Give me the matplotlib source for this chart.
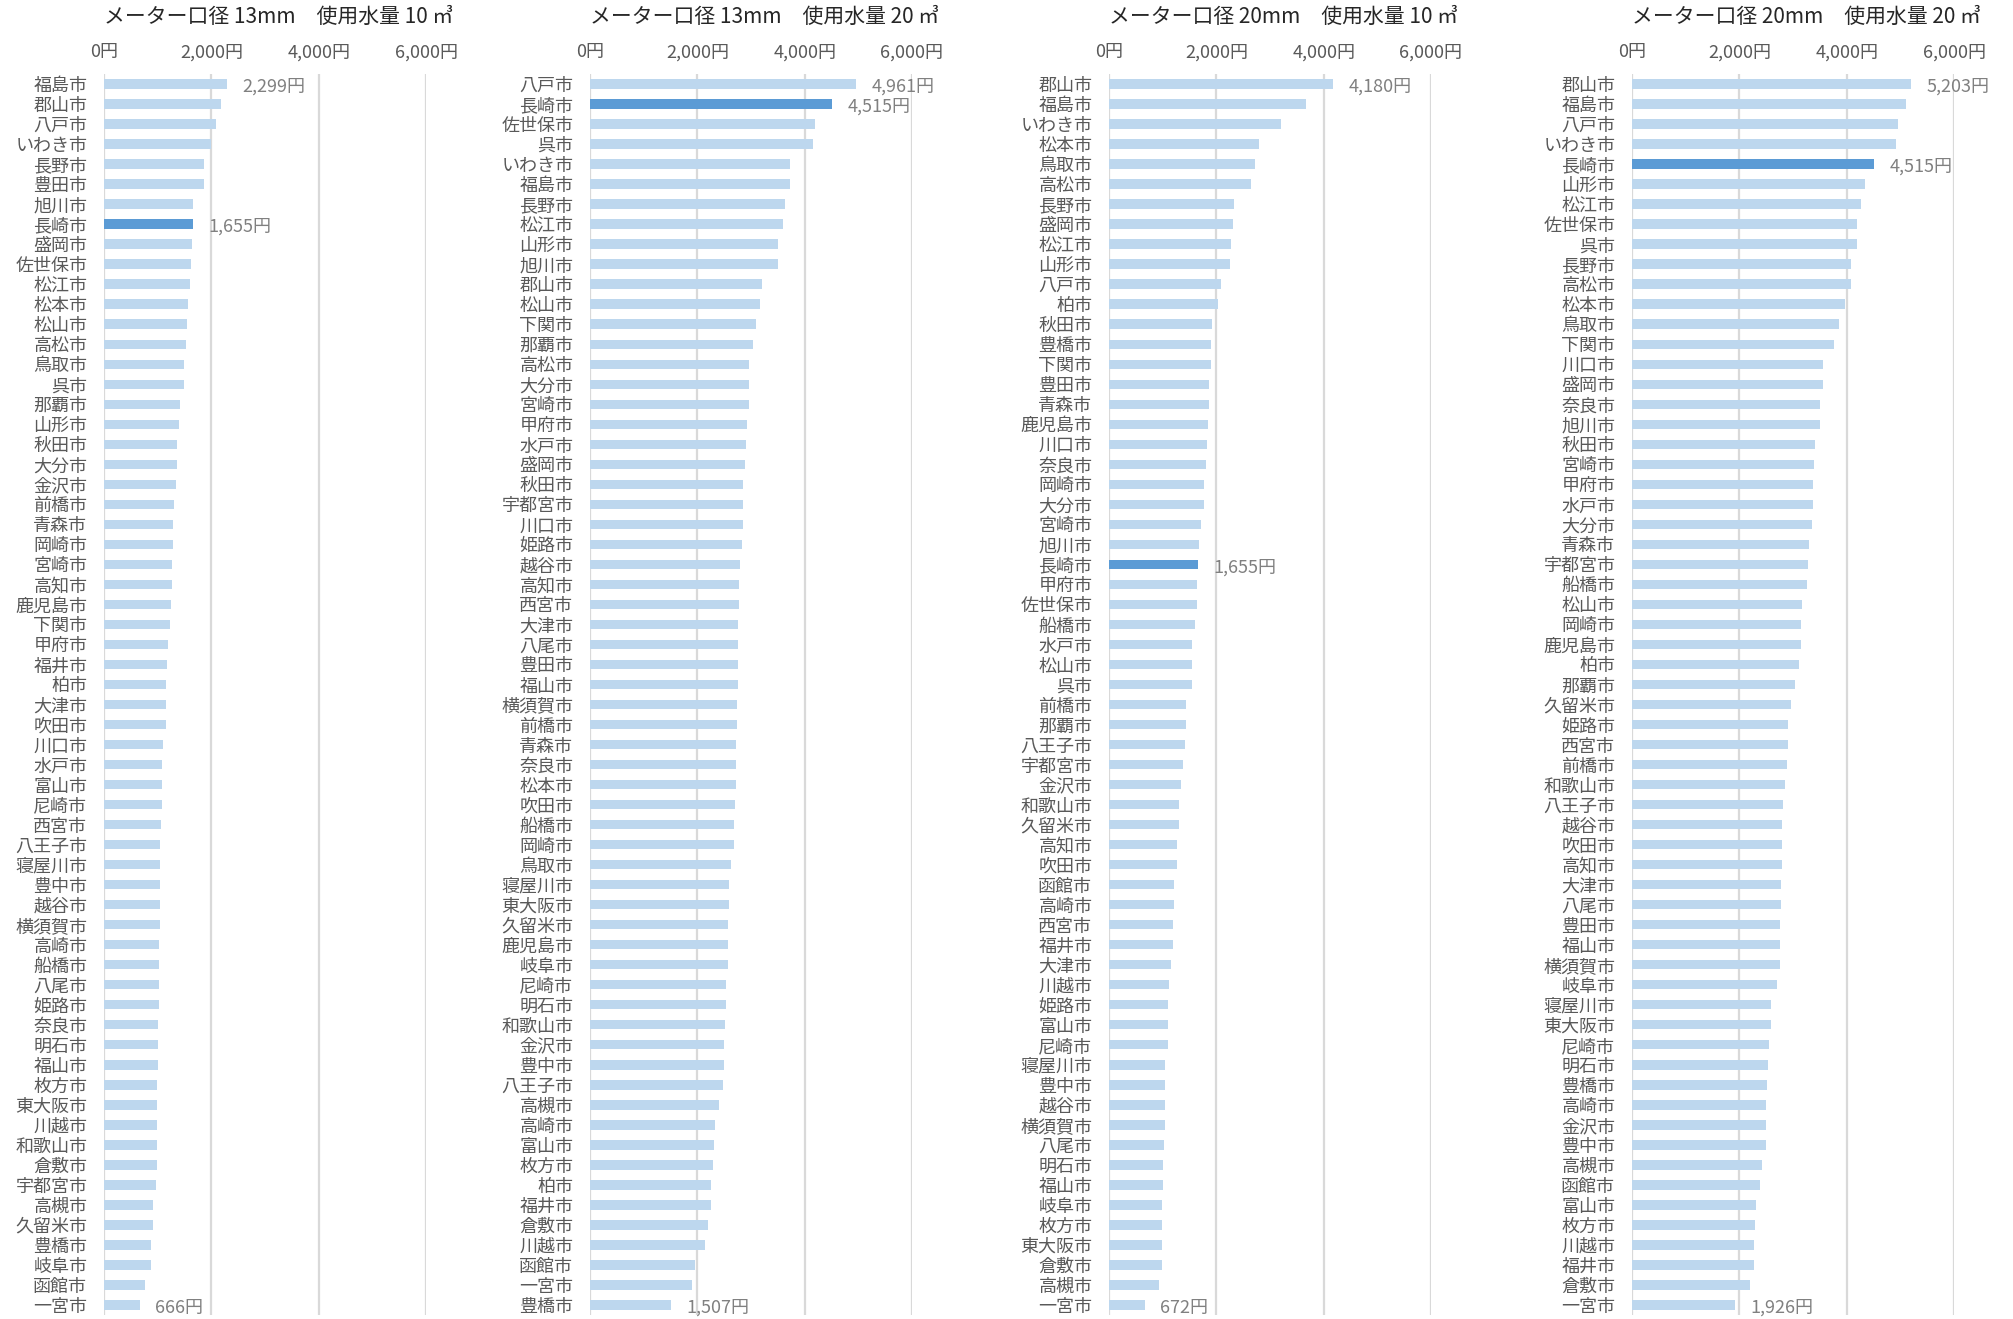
import matplotlib
matplotlib.use("Agg")
import matplotlib.pyplot as plt

plt.rcParams['font.family'] = ['Noto Sans CJK JP', 'DejaVu Sans']

# ---------------- data ----------------
titles = [
    "メーター口径 13mm　使用水量 10 ㎥",
    "メーター口径 13mm　使用水量 20 ㎥",
    "メーター口径 20mm　使用水量 10 ㎥",
    "メーター口径 20mm　使用水量 20 ㎥",
]

cities_1 = ["福島市", "郡山市", "八戸市", "いわき市", "長野市", "豊田市", "旭川市", "長崎市", "盛岡市", "佐世保市",
            "松江市", "松本市", "松山市", "高松市", "鳥取市", "呉市", "那覇市", "山形市", "秋田市", "大分市",
            "金沢市", "前橋市", "青森市", "岡崎市", "宮崎市", "高知市", "鹿児島市", "下関市", "甲府市", "福井市",
            "柏市", "大津市", "吹田市", "川口市", "水戸市", "富山市", "尼崎市", "西宮市", "八王子市", "寝屋川市",
            "豊中市", "越谷市", "横須賀市", "高崎市", "船橋市", "八尾市", "姫路市", "奈良市", "明石市", "福山市",
            "枚方市", "東大阪市", "川越市", "和歌山市", "倉敷市", "宇都宮市", "高槻市", "久留米市", "豊橋市", "岐阜市",
            "函館市", "一宮市"]
values_1 = [2299, 2183, 2084, 2003, 1872, 1860, 1660, 1655, 1642, 1623,
            1611, 1561, 1543, 1530, 1487, 1487, 1424, 1400, 1368, 1356,
            1337, 1300, 1288, 1281, 1275, 1269, 1256, 1232, 1188, 1169,
            1157, 1157, 1157, 1101, 1089, 1089, 1089, 1057, 1051, 1045,
            1045, 1039, 1039, 1032, 1032, 1026, 1026, 1014, 1001, 1001,
            983, 983, 983, 983, 983, 970, 920, 920, 883, 871,
            771, 666]

cities_2 = ["八戸市", "長崎市", "佐世保市", "呉市", "いわき市", "福島市", "長野市", "松江市", "山形市", "旭川市",
            "郡山市", "松山市", "下関市", "那覇市", "高松市", "大分市", "宮崎市", "甲府市", "水戸市", "盛岡市",
            "秋田市", "宇都宮市", "川口市", "姫路市", "越谷市", "高知市", "西宮市", "大津市", "八尾市", "豊田市",
            "福山市", "横須賀市", "前橋市", "青森市", "奈良市", "松本市", "吹田市", "船橋市", "岡崎市", "鳥取市",
            "寝屋川市", "東大阪市", "久留米市", "鹿児島市", "岐阜市", "尼崎市", "明石市", "和歌山市", "金沢市", "豊中市",
            "八王子市", "高槻市", "高崎市", "富山市", "枚方市", "柏市", "福井市", "倉敷市", "川越市", "函館市",
            "一宮市", "豊橋市"]
values_2 = [4961, 4515, 4196, 4147, 3730, 3718, 3625, 3600, 3506, 3494,
            3208, 3164, 3102, 3040, 2966, 2959, 2959, 2934, 2910, 2891,
            2860, 2860, 2847, 2835, 2798, 2785, 2773, 2767, 2767, 2754,
            2754, 2748, 2742, 2723, 2723, 2717, 2704, 2686, 2686, 2630,
            2593, 2593, 2580, 2580, 2574, 2543, 2537, 2524, 2493, 2493,
            2474, 2412, 2325, 2307, 2288, 2257, 2251, 2195, 2139, 1952,
            1909, 1507]

cities_3 = ["郡山市", "福島市", "いわき市", "松本市", "鳥取市", "高松市", "長野市", "盛岡市", "松江市", "山形市",
            "八戸市", "柏市", "秋田市", "豊橋市", "下関市", "豊田市", "青森市", "鹿児島市", "川口市", "奈良市",
            "岡崎市", "大分市", "宮崎市", "旭川市", "長崎市", "甲府市", "佐世保市", "船橋市", "水戸市", "松山市",
            "呉市", "前橋市", "那覇市", "八王子市", "宇都宮市", "金沢市", "和歌山市", "久留米市", "高知市", "吹田市",
            "函館市", "高崎市", "西宮市", "福井市", "大津市", "川越市", "姫路市", "富山市", "尼崎市", "寝屋川市",
            "豊中市", "越谷市", "横須賀市", "八尾市", "明石市", "福山市", "岐阜市", "枚方市", "東大阪市", "倉敷市",
            "高槻市", "一宮市"]
values_3 = [4180, 3679, 3200, 2801, 2714, 2639, 2334, 2309, 2272, 2247,
            2085, 2023, 1917, 1899, 1899, 1867, 1855, 1836, 1818, 1799,
            1762, 1762, 1712, 1668, 1655, 1631, 1631, 1594, 1550, 1550,
            1538, 1444, 1426, 1407, 1388, 1338, 1313, 1313, 1276, 1264,
            1214, 1214, 1201, 1195, 1164, 1127, 1108, 1096, 1096, 1052,
            1052, 1040, 1040, 1027, 1008, 1008, 996, 984, 984, 984,
            928, 672]

cities_4 = ["郡山市", "福島市", "八戸市", "いわき市", "長崎市", "山形市", "松江市", "佐世保市", "呉市", "長野市",
            "高松市", "松本市", "鳥取市", "下関市", "川口市", "盛岡市", "奈良市", "旭川市", "秋田市", "宮崎市",
            "甲府市", "水戸市", "大分市", "青森市", "宇都宮市", "船橋市", "松山市", "岡崎市", "鹿児島市", "柏市",
            "那覇市", "久留米市", "姫路市", "西宮市", "前橋市", "和歌山市", "八王子市", "越谷市", "吹田市", "高知市",
            "大津市", "八尾市", "豊田市", "福山市", "横須賀市", "岐阜市", "寝屋川市", "東大阪市", "尼崎市", "明石市",
            "豊橋市", "高崎市", "金沢市", "豊中市", "高槻市", "函館市", "富山市", "枚方市", "川越市", "福井市",
            "倉敷市", "一宮市"]
values_4 = [5203, 5098, 4961, 4918, 4515, 4346, 4259, 4196, 4190, 4085,
            4072, 3966, 3861, 3768, 3550, 3550, 3506, 3494, 3407, 3388,
            3376, 3370, 3351, 3289, 3276, 3252, 3164, 3158, 3158, 3121,
            3046, 2972, 2910, 2910, 2885, 2860, 2816, 2804, 2804, 2791,
            2773, 2773, 2760, 2760, 2754, 2698, 2599, 2593, 2549, 2543,
            2518, 2505, 2493, 2493, 2418, 2394, 2307, 2288, 2282, 2275,
            2201, 1926]

x_ticks = [0, 2000, 4000, 6000]
highlight_city = "長崎市"

panels = [(cities_1, values_1), (cities_2, values_2), (cities_3, values_3), (cities_4, values_4)]

# ---------------- styling ----------------
W, H = 2013, 1319
fig = plt.figure(figsize=(W / 100, H / 100), dpi=100)
fig.patch.set_facecolor("white")

lefts_px = [104, 590, 1109, 1632]
width_px = 322
top_px, bottom_px = 74, 1315

light = "#BDD7EE"
dark = "#5B9BD5"
grid_c = "#D9D9D9"
label_c = "#595959"
value_c = "#808080"

for (cities, vals), title, lpx in zip(panels, titles, lefts_px):
    ax = fig.add_axes([lpx / W, 1 - bottom_px / H, width_px / W, (bottom_px - top_px) / H])
    n = len(cities)
    ypos = list(range(n))
    colors = [dark if c == highlight_city else light for c in cities]
    ax.barh(ypos, vals, height=0.47, color=colors, zorder=3)
    ax.set_xlim(0, 6000)
    ax.set_ylim(n - 0.5, -0.5)
    ax.set_yticks(ypos)
    ax.set_yticklabels(cities, fontsize=13, color=label_c)
    ax.xaxis.tick_top()
    ax.set_xticks(x_ticks)
    ax.set_xticklabels([f"{t:,}円" for t in x_ticks], fontsize=13, color=label_c)
    ax.tick_params(axis="both", length=0)
    ax.tick_params(axis="y", pad=12)
    ax.tick_params(axis="x", pad=9)
    for s in ax.spines.values():
        s.set_visible(False)
    ax.grid(axis="x", color=grid_c, linewidth=1.6, zorder=0)
    ax.grid(axis="y", visible=False)
    ax.set_facecolor("white")

    # value labels: first, highlighted, last
    idxs = sorted({0, cities.index(highlight_city), n - 1})
    for i in idxs:
        ax.annotate(f"{vals[i]:,}円", xy=(vals[i], i), xytext=(11, -2),
                    textcoords="offset points", ha="left", va="center",
                    fontsize=13, color=value_c, zorder=4, annotation_clip=False)

    fig.text(lpx / W, 1 - 17 / H, title, ha="left", va="center", fontsize=15, color="#262626")

fig.savefig("out.png", dpi=100, facecolor="white")
